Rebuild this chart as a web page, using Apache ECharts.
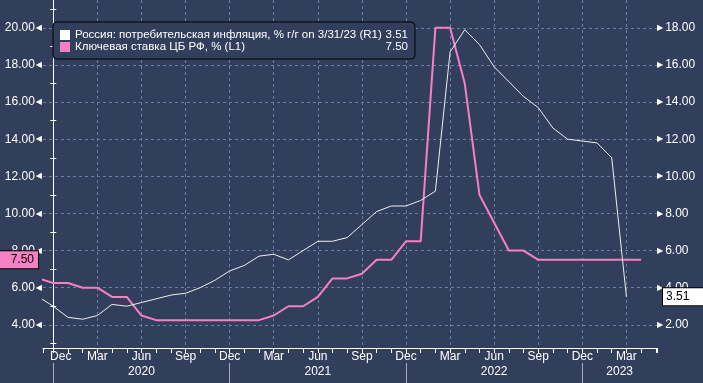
<!DOCTYPE html>
<html><head><meta charset="utf-8">
<script src="https://cdn.jsdelivr.net/npm/echarts@6/dist/echarts.min.js"></script>
<style>html,body{margin:0;padding:0;background:#323f5c;}#c{width:703px;height:383px;}</style>
</head><body><div id="c"></div>
<script>
// ---- data ----
const months = ['2019-11','2019-12',
  '2020-01','2020-02','2020-03','2020-04','2020-05','2020-06','2020-07','2020-08','2020-09','2020-10','2020-11','2020-12',
  '2021-01','2021-02','2021-03','2021-04','2021-05','2021-06','2021-07','2021-08','2021-09','2021-10','2021-11','2021-12',
  '2022-01','2022-02','2022-03','2022-04','2022-05','2022-06','2022-07','2022-08','2022-09','2022-10','2022-11','2022-12',
  '2023-01','2023-02','2023-03','2023-04'];
const keyRate = [6.5,6.25,
  6.25,6.0,6.0,5.5,5.5,4.5,4.25,4.25,4.25,4.25,4.25,4.25,
  4.25,4.25,4.5,5.0,5.0,5.5,6.5,6.5,6.75,7.5,7.5,8.5,
  8.5,20,20,17,11,9.5,8,8,7.5,7.5,7.5,7.5,
  7.5,7.5,7.5,7.5];
const inflation = [3.5,3.0,
  2.4,2.3,2.5,3.1,3.0,3.2,3.4,3.6,3.7,4.0,4.4,4.9,
  5.2,5.7,5.8,5.5,6.0,6.5,6.5,6.7,7.4,8.1,8.4,8.4,
  8.7,9.2,16.7,17.9,17.1,15.9,15.1,14.3,13.7,12.6,12.0,11.9,
  11.8,11.0,3.51,null];
const monthNames = ['Jan','Feb','Mar','Apr','May','Jun','Jul','Aug','Sep','Oct','Nov','Dec'];
const quarterMonths = ['Dec','Mar','Jun','Sep'];
const yearLabels = ['2020','2021','2022','2023'];
const INF_NAME = 'Россия: потребительская инфляция, % г/г on 3/31/23 (R1)';
const KEY_NAME = 'Ключевая ставка ЦБ РФ, % (L1)';

// ---- helpers ----
const BASE_YEAR = 2019;
function monthPos(s){ const [y,m]=s.split('-').map(Number); return (y-BASE_YEAR)*12 + (m-12); }
function posToMonth(p){ const total = BASE_YEAR*12 + 11 + p; return {y: Math.floor(total/12), m: total%12}; }
const X_MIN = -0.7, X_MAX = 41.08;
const lastKey = keyRate[keyRate.length-1];
const lastInf = inflation.filter(v=>v!=null).slice(-1)[0];

const yearPos = {};
yearLabels.forEach(y=>{
  const s = Math.max((Number(y)-BASE_YEAR-1)*12, X_MIN);
  const e = Math.min((Number(y)-BASE_YEAR)*12, X_MAX);
  yearPos[y] = +( (s+e)/2 ).toFixed(3);
});
const yearTicks = yearLabels.map(y=>(Number(y)-BASE_YEAR-1)*12).filter(v=>v>=X_MIN);

const PINK = '#f77fc4', WHITE = '#eeeeee', GRID = '#6a7ca3', BG = '#323f5c';
const FONT = 'Liberation Sans';

const chart = echarts.init(document.getElementById('c'));
chart.setOption({
  animation:false,
  backgroundColor: BG,
  textStyle:{fontFamily:FONT},
  grid:{left:43,right:46,top:0,bottom:35},
  legend:{
    left:53, top:22, orient:'vertical',
    data:[INF_NAME, KEY_NAME],
    icon:'rect', itemWidth:10, itemHeight:10, itemGap:0,
    padding:[7,7,6,7],
    backgroundColor:BG, borderColor:'#000', borderWidth:1, borderRadius:4,
    selectedMode:false,
    formatter: n => `{n|${n}}{v|${n===INF_NAME ? lastInf.toFixed(2) : lastKey.toFixed(2)}}`,
    textStyle:{color:'#fff', fontSize:11.5, fontFamily:FONT,
      rich:{n:{width:311, color:'#fff', fontSize:11.5, lineHeight:13, fontFamily:FONT},
            v:{width:22, align:'right', color:'#fff', fontSize:11.5, lineHeight:13, fontFamily:FONT}}}
  },
  xAxis:[
    {type:'value', min:X_MIN, max:X_MAX, minInterval:1, maxInterval:1, splitNumber:40, position:'bottom',
     axisLine:{show:true, lineStyle:{color:'#fff', width:1}},
     axisTick:{show:true, length:5, lineStyle:{color:'#fff'}},
     axisLabel:{color:'#fff', fontSize:12, margin:3, fontFamily:FONT,
       formatter: v => {
         if (Math.abs(v-Math.round(v))>1e-6) return '';
         const mm = posToMonth(Math.round(v));
         const name = monthNames[mm.m];
         if (quarterMonths.indexOf(name)<0) return '';
         return (v - X_MIN < 1.5) ? `{first|${name}}` : name;
       },
       rich:{first:{color:'#fff', fontSize:12, fontFamily:FONT, padding:[0,0,0,15]}}},
     splitLine:{show:false}},
    {type:'value', min:X_MIN, max:X_MAX, minInterval:3, maxInterval:3, splitNumber:14, position:'bottom',
     axisLine:{show:false}, axisTick:{show:false}, axisLabel:{show:false},
     splitLine:{show:true, showMinLine:false, showMaxLine:false, lineStyle:{color:GRID, type:[3,3], width:1}}},
    {type:'value', min:X_MIN, max:X_MAX, position:'bottom', offset:15,
     axisLine:{show:false},
     axisTick:{show:true, length:20, customValues:yearTicks, lineStyle:{color:'#a3abbd'}},
     axisLabel:{show:true, customValues:Object.values(yearPos), margin:3, color:'#fff', fontSize:12, fontFamily:FONT,
       formatter: v => { for (const y of yearLabels) if (Math.abs(yearPos[y]-v)<1e-3) return y; return ''; }},
     splitLine:{show:false}}
  ],
  yAxis:[
    {type:'value', position:'left', min:2.75, max:21.5, minInterval:2, maxInterval:2, splitNumber:9,
     axisLine:{show:true, lineStyle:{color:'#fff'}},
     axisTick:{show:false},
     minorTick:{show:true, splitNumber:2, length:3, lineStyle:{color:'#fff'}},
     axisLabel:{margin:1,
       formatter: v => (Math.abs(v/2-Math.round(v/2))<1e-6) ? `{v|${v.toFixed(2)}}{a|◀}` : '',
       rich:{v:{color:'#fff', fontSize:12, fontFamily:FONT}, a:{color:'#fff', fontSize:8, fontFamily:'DejaVu Sans', padding:[0,0,0,1]}}},
     splitLine:{show:true, showMinLine:false, showMaxLine:false, lineStyle:{color:GRID, type:[3,3], width:1}}},
    {type:'value', position:'right', min:0.75, max:19.5, minInterval:2, maxInterval:2, splitNumber:9,
     axisLine:{show:true, lineStyle:{color:'#fff'}},
     axisTick:{show:false},
     minorTick:{show:true, splitNumber:2, length:3, lineStyle:{color:'#fff'}},
     axisLabel:{margin:0,
       formatter: v => (Math.abs(v/2-Math.round(v/2))<1e-6) ? `{a|▶}{v|${v.toFixed(2)}}` : '',
       rich:{v:{color:'#fff', fontSize:12, fontFamily:FONT}, a:{color:'#fff', fontSize:8, fontFamily:'DejaVu Sans', padding:[0,2,0,0]}}},
     splitLine:{show:false}}
  ],
  series:[
    {name:KEY_NAME, type:'line', xAxisIndex:0, yAxisIndex:0, symbol:'none', showSymbol:false,
     data: keyRate.map((v,i)=>[monthPos(months[i]), v]),
     lineStyle:{color:PINK, width:2}, itemStyle:{color:PINK},
     markLine:{silent:true, symbol:'none', animation:false,
       lineStyle:{width:0, color:'rgba(0,0,0,0)'},
       data:[{yAxis:lastKey}],
       label:{show:true, position:'start', distance:5, formatter:lastKey.toFixed(2),
         color:'#000', fontSize:12, fontFamily:FONT, backgroundColor:PINK, borderColor:'#000', borderWidth:1, padding:[3,4,2,12]}}},
    {name:INF_NAME, type:'line', xAxisIndex:0, yAxisIndex:1, symbol:'none', showSymbol:false,
     data: inflation.map((v,i)=>[monthPos(months[i]), v]),
     lineStyle:{color:WHITE, width:1}, itemStyle:{color:'#ffffff'},
     markLine:{silent:true, symbol:'none', animation:false,
       lineStyle:{width:0, color:'rgba(0,0,0,0)'},
       data:[{yAxis:lastInf}],
       label:{show:true, position:'end', distance:6, formatter:lastInf.toFixed(2),
         color:'#000', fontSize:12, fontFamily:FONT, backgroundColor:'#fff', borderColor:'#000', borderWidth:1, padding:[3,14,2,3]}}}
  ]
});
</script></body></html>
